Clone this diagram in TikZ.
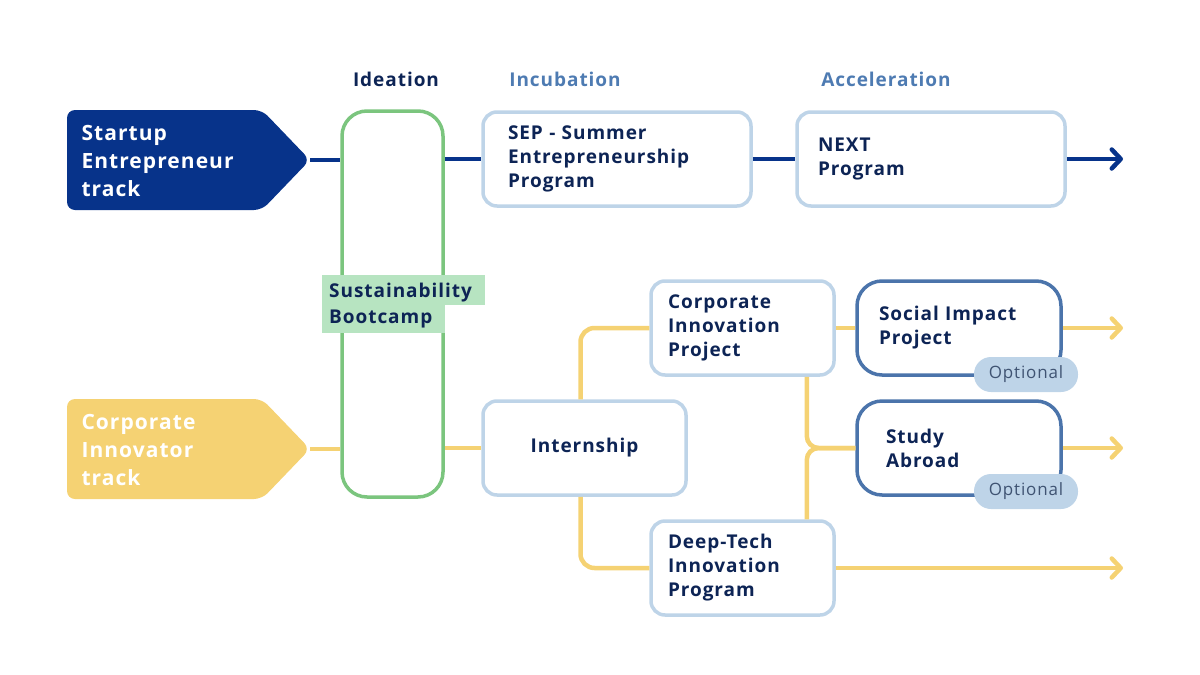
\documentclass[tikz,border=0pt]{standalone}
\usepackage{fontspec}
\setmainfont[LetterSpace=5]{Open Sans}
\usetikzlibrary{arrows.meta}

\definecolor{navy}{HTML}{07338A}
\definecolor{ink}{HTML}{0D2455}
\definecolor{gold}{HTML}{F5D273}
\definecolor{boxblue}{HTML}{BED4E8}
\definecolor{midblue}{HTML}{4B74AB}
\definecolor{headblue}{HTML}{4E7BB2}
\definecolor{green}{HTML}{7BC57E}
\definecolor{greenfill}{HTML}{B7E4C1}
\definecolor{optink}{HTML}{3F5372}

\begin{document}
\begin{tikzpicture}[x=1pt, y=-1pt,
    phase/.style={text=headblue, font=\bfseries\fontsize{19}{24}\selectfont},
    track/.style={text=white, align=left, font=\bfseries\fontsize{21}{28}\selectfont},
    box/.style={draw=boxblue, line width=3.5pt, rounded corners=14pt, fill=white,
        minimum height=94pt, inner ysep=0pt, align=left, text=ink,
        font=\bfseries\fontsize{19}{24}\selectfont},
    optbox/.style={box, draw=midblue, rounded corners=25pt},
    pill/.style={fill=boxblue, rounded corners=17pt, minimum width=104pt,
        minimum height=35pt, text=optink, font=\fontsize{17}{20}\selectfont},
    navyline/.style={draw=navy, line width=4.5pt},
    goldline/.style={draw=gold, line width=4.5pt},
    tip/.style={-{Straight Barb[length=9pt, width=19pt, round]}}]

    % Cadre
    \useasboundingbox (0,0) rectangle (1200,675);

    % Phases
    \node[phase, text=ink] (hideation) at (396,79) {Ideation};
    \node[phase] (hincub) at (565,79) {Incubation};
    \node[phase] (haccel) at (886,79) {Acceleration};

    % Pistes
    \fill[navy, rounded corners=8pt] (67,110) -- (262,110) -- (310,160) -- (262,210) -- (67,210) -- cycle;
    \coordinate (startup) at (310,160);
    \node[track, anchor=west] (startuptxt) at (78,161) {Startup\\Entrepreneur\\track};
    \fill[gold, rounded corners=8pt] (67,399) -- (262,399) -- (310,449) -- (262,499) -- (67,499) -- cycle;
    \coordinate (corporate) at (310,449);
    \node[track, anchor=west] (corporatetxt) at (78,450) {Corporate\\Innovator\\track};

    % Bootcamp
    \node[draw=green, line width=3.5pt, rounded corners=25pt, minimum width=101pt,
        minimum height=386pt] (boot) at (392.5,304) {};
    \fill[greenfill] (322,275) rectangle (485,305);
    \fill[greenfill] (322,304) rectangle (445,333);
    \node[anchor=west, align=left, text=ink, inner sep=0pt,
        font=\bfseries\fontsize{19}{26}\selectfont] (bootcamp) at (329,306) {Sustainability\\Bootcamp};

    % Programmes
    \node[box, text width=218pt, inner xsep=25pt] (sep) at (617,159) {SEP - Summer\\Entrepreneurship\\Program};
    \node[box, text width=226pt, inner xsep=21pt] (next) at (931,159) {NEXT\\Program};
    \node[box, text width=149pt, inner xsep=17pt] (cip) at (742.5,328) {Corporate\\Innovation\\Project};
    \node[box, text width=169pt, inner xsep=17pt, align=center] (intern) at (584.5,448) {Internship};
    \node[box, text width=149pt, inner xsep=17pt] (dtp) at (742.5,568) {Deep-Tech\\Innovation\\Program};
    \node[optbox, text width=160pt, inner xsep=22pt] (sip) at (959,328) {Social Impact\\Project};
    \node[optbox, text width=146pt, inner xsep=29pt] (study) at (959,448) {Study\\Abroad};
    \node[pill] (opt1) at (1026,374.5) {Optional};
    \node[pill] (opt2) at (1026,491.5) {Optional};

    % Sorties
    \coordinate (endnext) at (1123,159);
    \coordinate (endsip) at (1123,328);
    \coordinate (endstudy) at (1123,448);
    \coordinate (enddtp) at (1123,568);

    % Liaisons startup
    \draw[navyline] (startup) -- (startup -| boot.west);
    \draw[navyline] (sep.west -| boot.east) -- (sep);
    \draw[navyline] (sep) -- (next);
    \draw[navyline, tip] (next) -- (endnext);

    % Liaisons corporate
    \draw[goldline] (corporate) -- (corporate -| boot.west);
    \draw[goldline] (intern.west -| boot.east) -- (intern);
    \draw[goldline, rounded corners=14pt] (intern.north) ++(-4,0) |- (cip.west);
    \draw[goldline, rounded corners=14pt] (intern.south) ++(-4,0) |- (dtp.west);
    \draw[goldline] (cip) -- (sip);
    \draw[goldline, rounded corners=12pt] (cip.south east) ++(-29,0) |- (study.west);
    \draw[goldline, rounded corners=12pt] (dtp.north east) ++(-29,0) |- (study.west);
    \draw[goldline, tip] (sip) -- (endsip);
    \draw[goldline, tip] (study) -- (endstudy);
    \draw[goldline, tip] (dtp) -- (enddtp);

\end{tikzpicture}
\end{document}
